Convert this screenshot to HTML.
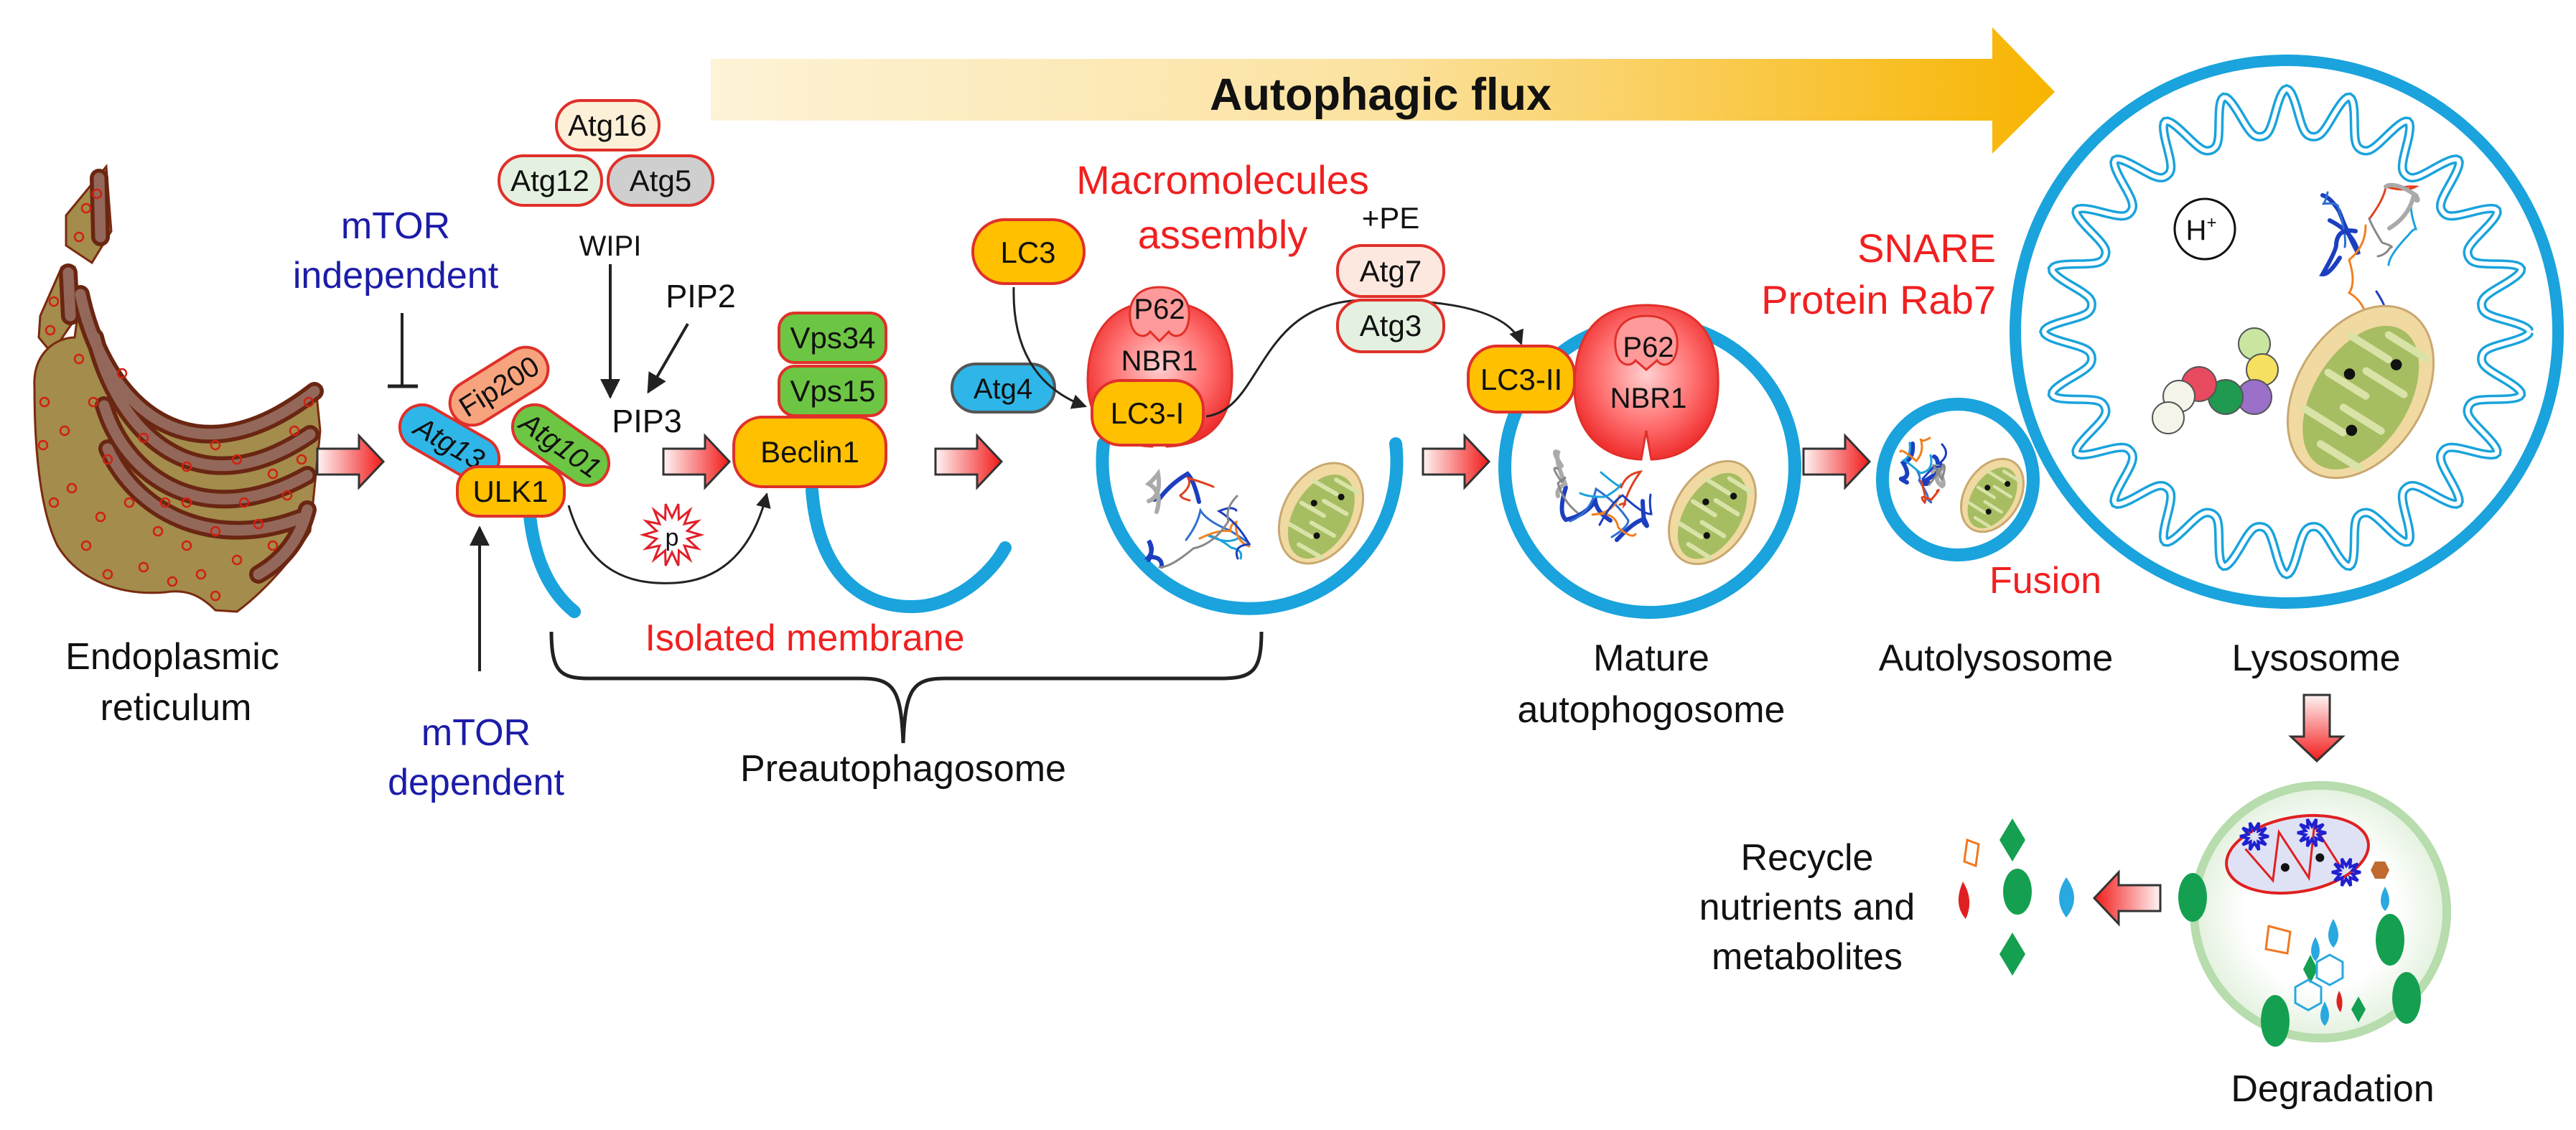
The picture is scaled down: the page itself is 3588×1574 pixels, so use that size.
<!DOCTYPE html>
<html><head><meta charset="utf-8">
<style>
html,body{margin:0;padding:0;background:#fff;}
svg{display:block;}
text{font-family:"Liberation Sans",Arial,sans-serif;}
</style></head>
<body>
<svg id="s" width="3588" height="1574" viewBox="0 0 3588 1574" xmlns="http://www.w3.org/2000/svg">
<defs>
  <linearGradient id="flux" x1="0" x2="1" y1="0" y2="0">
    <stop offset="0" stop-color="#fdf3d6"/>
    <stop offset="0.5" stop-color="#fbe2a0"/>
    <stop offset="1" stop-color="#f8b400"/>
  </linearGradient>
  <linearGradient id="redarr" x1="0" x2="1" y1="0" y2="0">
    <stop offset="0" stop-color="#fff4f4"/>
    <stop offset="1" stop-color="#f21a1a"/>
  </linearGradient>
  <radialGradient id="nbr" cx="0.5" cy="0.45" r="0.55">
    <stop offset="0" stop-color="#ffd0d0"/>
    <stop offset="0.6" stop-color="#ff7070"/>
    <stop offset="1" stop-color="#f03030"/>
  </radialGradient>
  <radialGradient id="deg" cx="0.5" cy="0.5" r="0.5">
    <stop offset="0.6" stop-color="#ffffff"/>
    <stop offset="1" stop-color="#e3f1de"/>
  </radialGradient>
  <marker id="ah" viewBox="0 0 10 10" refX="9" refY="5" markerWidth="7" markerHeight="7" orient="auto-start-reverse">
    <path d="M0,0 L10,5 L0,10 Z" fill="#222"/>
  </marker>
  <path id="barr" d="M0,18 H58 V0 L92,36 L58,72 V54 H0 Z"/>
</defs>

<!-- Autophagic flux arrow -->
<path d="M990,82 H2775 V38 L2862,128 L2775,214 V168 H990 Z" fill="url(#flux)"/>
<text x="1923" y="153" font-size="63" font-weight="bold" text-anchor="middle" fill="#111">Autophagic flux</text>

<!-- ER -->
<g id="er" stroke="#7a2a10" stroke-width="3" fill="#a38c4c">
  <path d="M92,300 L148,232 L155,322 L128,366 L92,342 Z"/>
  <path d="M56,440 L86,372 L104,372 L106,442 L72,492 L54,470 Z"/>
  <path d="M48,540 C45,490 80,470 104,470 L112,410 C145,565 265,680 440,540 L446,600 L432,740 C400,790 360,830 330,852 L300,850 C280,830 260,820 230,825 C170,830 110,810 80,760 C55,710 48,620 48,540 Z"/>
</g>
<g fill="none" stroke-linecap="round">
  <g stroke="#6a2612" stroke-width="26">
    <path d="M138,248 L140,330"/>
    <path d="M95,380 L98,440"/>
    <path d="M112,410 C145,565 265,680 438,545"/>
    <path d="M132,470 C165,605 275,712 432,605"/>
    <path d="M145,565 C175,665 285,742 428,662"/>
    <path d="M150,625 C195,722 305,765 418,722"/>
    <path d="M360,800 C395,780 418,750 428,710"/>
  </g>
  <g stroke="#93685a" stroke-width="15">
    <path d="M138,248 L140,330"/>
    <path d="M95,380 L98,440"/>
    <path d="M112,410 C145,565 265,680 438,545"/>
    <path d="M132,470 C165,605 275,712 432,605"/>
    <path d="M145,565 C175,665 285,742 428,662"/>
    <path d="M150,625 C195,722 305,765 418,722"/>
    <path d="M360,800 C395,780 418,750 428,710"/>
  </g>
</g>
<g id="erdots" fill="none" stroke="#d02010" stroke-width="2.5"></g>
<text x="240" y="932" font-size="52" text-anchor="middle" fill="#111">Endoplasmic</text>
<text x="245" y="1003" font-size="52" text-anchor="middle" fill="#111">reticulum</text>

<!-- block arrows -->
<use href="#barr" x="442" y="607" fill="url(#redarr)" stroke="#333" stroke-width="3"/>
<use href="#barr" x="924" y="607" fill="url(#redarr)" stroke="#333" stroke-width="3"/>
<use href="#barr" x="1303" y="607" fill="url(#redarr)" stroke="#333" stroke-width="3"/>
<use href="#barr" x="1982" y="607" fill="url(#redarr)" stroke="#333" stroke-width="3"/>
<use href="#barr" x="2512" y="607" fill="url(#redarr)" stroke="#333" stroke-width="3"/>
<g transform="translate(3009,1215) scale(-1,1)"><use href="#barr" fill="url(#redarr)" stroke="#333" stroke-width="3"/></g>
<g transform="translate(3263,968) rotate(90)"><path d="M0,18 H58 V0 L92,36 L58,72 V54 H0 Z" fill="url(#redarr)" stroke="#333" stroke-width="3"/></g>

<!-- mTOR labels -->
<text x="551" y="332" font-size="52" text-anchor="middle" fill="#1c1ca8">mTOR</text>
<text x="551" y="401" font-size="52" text-anchor="middle" fill="#1c1ca8">independent</text>
<line x1="560" y1="436" x2="560" y2="538" stroke="#222" stroke-width="4"/>
<line x1="540" y1="538" x2="582" y2="538" stroke="#222" stroke-width="5"/>
<text x="663" y="1038" font-size="52" text-anchor="middle" fill="#1c1ca8">mTOR</text>
<text x="663" y="1107" font-size="52" text-anchor="middle" fill="#1c1ca8">dependent</text>
<line x1="668" y1="935" x2="668" y2="735" stroke="#222" stroke-width="4" marker-end="url(#ah)"/>

<!-- Atg16/12/5 -->
<g stroke="#e0302a" stroke-width="4">
  <rect x="775" y="140" width="143" height="69" rx="34" fill="#fdf0d8"/>
  <rect x="695" y="217" width="143" height="69" rx="34" fill="#e4f1e0"/>
  <rect x="847" y="217" width="146" height="69" rx="34" fill="#cfcfcf"/>
</g>
<g font-size="42" text-anchor="middle" fill="#111">
  <text x="846" y="189">Atg16</text>
  <text x="766" y="266">Atg12</text>
  <text x="920" y="266">Atg5</text>
</g>
<text x="850" y="356" font-size="40" text-anchor="middle" fill="#111">WIPI</text>
<line x1="850" y1="368" x2="850" y2="553" stroke="#222" stroke-width="4" marker-end="url(#ah)"/>
<text x="976" y="428" font-size="45" text-anchor="middle" fill="#111">PIP2</text>
<line x1="958" y1="451" x2="903" y2="546" stroke="#222" stroke-width="4" marker-end="url(#ah)"/>
<text x="901" y="602" font-size="45" text-anchor="middle" fill="#111">PIP3</text>

<!-- isolated membranes -->
<g fill="none" stroke="#1aa3dc" stroke-width="18" stroke-linecap="round">
  <path d="M738,719 Q748,810 800,852"/>
  <path d="M1131,683 C1140,800 1200,845 1270,845 C1330,845 1380,800 1400,763"/>
  <path d="M1537,618 A205,205 0 1 0 1944,618"/>
  <circle cx="2298" cy="651" r="202"/>
  <circle cx="2727" cy="668" r="105"/>
  <circle cx="3185" cy="462" r="378" stroke-width="16"/>
</g>
<g id="lysomem"></g>

<!-- ULK complex -->
<g stroke="#e0302a" stroke-width="4">
  <g transform="translate(695,538) rotate(-32)"><rect x="-75" y="-31" width="150" height="62" rx="31" fill="#f7a47e"/><text x="0" y="14" font-size="40" text-anchor="middle" stroke="none" fill="#111">Fip200</text></g>
  <g transform="translate(626,617) rotate(30)"><rect x="-75" y="-31" width="150" height="62" rx="31" fill="#2eb6e8"/><text x="0" y="14" font-size="40" font-style="italic" text-anchor="middle" stroke="none" fill="#111">Atg13</text></g>
  <g transform="translate(781,620) rotate(35)"><rect x="-75" y="-31" width="150" height="62" rx="31" fill="#6cc644"/><text x="0" y="14" font-size="40" font-style="italic" text-anchor="middle" stroke="none" fill="#111">Atg101</text></g>
  <rect x="637" y="650" width="149" height="69" rx="30" fill="#ffc000"/>
</g>
<text x="711" y="699" font-size="42" text-anchor="middle" fill="#111">ULK1</text>

<!-- curved arrow ULK1 -> Beclin1 + p -->
<path d="M792,704 C820,800 880,815 940,812 C1010,808 1050,760 1068,688" fill="none" stroke="#222" stroke-width="3" marker-end="url(#ah)"/>
<polygon id="star" fill="#fff" stroke="#e0202a" stroke-width="3"/>
<text x="936" y="760" font-size="34" text-anchor="middle" fill="#111">p</text>

<!-- Beclin1 complex -->
<g stroke="#e0302a" stroke-width="4">
  <rect x="1085" y="436" width="149" height="69" rx="22" fill="#6cc644"/>
  <rect x="1085" y="510" width="149" height="69" rx="22" fill="#6cc644"/>
  <rect x="1022" y="581" width="212" height="97" rx="40" fill="#ffc000"/>
</g>
<g font-size="42" text-anchor="middle" fill="#111">
  <text x="1160" y="485">Vps34</text>
  <text x="1160" y="559">Vps15</text>
  <text x="1128" y="644">Beclin1</text>
</g>
<text x="1121" y="906" font-size="52" text-anchor="middle" fill="#f02020">Isolated membrane</text>
<path d="M768,880 C768,935 780,945 820,945 L1200,945 C1245,945 1255,960 1258,1035 C1261,960 1271,945 1316,945 L1700,945 C1745,945 1757,935 1757,880" fill="none" stroke="#222" stroke-width="5"/>
<text x="1258" y="1088" font-size="52" text-anchor="middle" fill="#111">Preautophagosome</text>

<!-- LC3 stage -->
<text x="1703" y="270" font-size="56" text-anchor="middle" fill="#f02020">Macromolecules</text>
<text x="1703" y="346" font-size="56" text-anchor="middle" fill="#f02020">assembly</text>
<rect x="1355" y="306" width="155" height="89" rx="44" fill="#ffc000" stroke="#e0302a" stroke-width="4"/>
<text x="1432" y="366" font-size="42" text-anchor="middle" fill="#111">LC3</text>
<rect x="1326" y="507" width="143" height="67" rx="33" fill="#2eb6e8" stroke="#555" stroke-width="4"/>
<text x="1397" y="555" font-size="40" text-anchor="middle" fill="#111">Atg4</text>
<path d="M1412,400 C1410,480 1440,540 1512,566" fill="none" stroke="#222" stroke-width="3" marker-end="url(#ah)"/>
<g>
  <path d="M1615,420 C1700,420 1718,480 1716,530 C1714,590 1680,620 1625,622 L1615,590 L1605,622 C1550,620 1515,590 1515,530 C1515,480 1535,420 1615,420 Z" fill="url(#nbr)" stroke="#e0302a" stroke-width="3"/>
  <path d="M1615,400 C1650,400 1660,425 1655,450 C1650,470 1635,472 1628,462 L1615,475 L1602,462 C1595,472 1580,470 1575,450 C1570,425 1580,400 1615,400 Z" fill="#ff9a9a" stroke="#e0302a" stroke-width="3"/>
  <text x="1615" y="444" font-size="40" text-anchor="middle" fill="#111">P62</text>
  <text x="1615" y="516" font-size="40" text-anchor="middle" fill="#111">NBR1</text>
</g>
<rect x="1521" y="530" width="155" height="90" rx="40" fill="#ffc000" stroke="#e0302a" stroke-width="4"/>
<text x="1598" y="590" font-size="42" text-anchor="middle" fill="#111">LC3-I</text>
<path d="M1680,580 C1760,570 1750,420 1900,418 C2010,416 2100,430 2119,479" fill="none" stroke="#222" stroke-width="3" marker-end="url(#ah)"/>
<text x="1937" y="318" font-size="42" text-anchor="middle" fill="#111">+PE</text>
<g stroke="#e0302a" stroke-width="4">
  <rect x="1863" y="342" width="148" height="71" rx="34" fill="#fde8e0"/>
  <rect x="1863" y="418" width="148" height="72" rx="34" fill="#e4f1e0"/>
</g>
<text x="1937" y="392" font-size="42" text-anchor="middle" fill="#111">Atg7</text>
<text x="1937" y="468" font-size="42" text-anchor="middle" fill="#111">Atg3</text>

<!-- mature autophagosome -->
<g>
  <path d="M2293,425 C2378,425 2395,485 2393,540 C2391,600 2355,638 2300,640 L2293,600 L2286,640 C2230,638 2193,600 2193,540 C2193,485 2210,425 2293,425 Z" fill="url(#nbr)" stroke="#e0302a" stroke-width="3"/>
  <path d="M2293,440 C2330,440 2340,465 2335,490 C2330,510 2315,512 2308,502 L2293,515 L2278,502 C2271,512 2256,510 2251,490 C2246,465 2256,440 2293,440 Z" fill="#ff9a9a" stroke="#e0302a" stroke-width="3"/>
  <text x="2296" y="497" font-size="40" text-anchor="middle" fill="#111">P62</text>
  <text x="2296" y="568" font-size="40" text-anchor="middle" fill="#111">NBR1</text>
</g>
<rect x="2045" y="482" width="148" height="92" rx="40" fill="#ffc000" stroke="#e0302a" stroke-width="4"/>
<text x="2119" y="543" font-size="42" text-anchor="middle" fill="#111">LC3-II</text>

<text x="2780" y="365" font-size="56" text-anchor="end" fill="#f02020">SNARE</text>
<text x="2780" y="437" font-size="56" text-anchor="end" fill="#f02020">Protein Rab7</text>
<text x="2849" y="826" font-size="52" text-anchor="middle" fill="#f02020">Fusion</text>

<!-- H+ -->
<circle cx="3071" cy="319" r="42" fill="#fff" stroke="#111" stroke-width="3"/>
<text x="3066" y="334" font-size="40" text-anchor="middle" fill="#111">H<tspan font-size="24" dy="-16">+</tspan></text>

<!-- beads -->
<g stroke="#555" stroke-width="2">
  <circle cx="3140" cy="479" r="22" fill="#c8e6a0"/>
  <circle cx="3151" cy="515" r="22" fill="#f5e060"/>
  <circle cx="3140" cy="553" r="24" fill="#9a70c8"/>
  <circle cx="3100" cy="553" r="24" fill="#1f9a50"/>
  <circle cx="3063" cy="535" r="24" fill="#e84a60"/>
  <circle cx="3035" cy="552" r="22" fill="#f4f4e8"/>
  <circle cx="3020" cy="582" r="22" fill="#f4f4e8"/>
</g>

<g id="prot"></g>
<g id="mito"></g>

<!-- labels -->
<g font-size="52" text-anchor="middle" fill="#111">
  <text x="2300" y="934">Mature</text>
  <text x="2300" y="1006">autophogosome</text>
  <text x="2780" y="934">Autolysosome</text>
  <text x="3226" y="934">Lysosome</text>
  <text x="3249" y="1534">Degradation</text>
  <text x="2517" y="1212">Recycle</text>
  <text x="2517" y="1281">nutrients and</text>
  <text x="2517" y="1350">metabolites</text>
</g>

<!-- degradation -->
<circle cx="3232" cy="1270" r="176" fill="url(#deg)" stroke="#b7dcad" stroke-width="12"/>
<g transform="translate(3200,1190) rotate(-10)">
  <ellipse cx="0" cy="0" rx="100" ry="52" fill="#dfe2f4" stroke="#e02020" stroke-width="4"/>
  <path d="M-70,-20 L-40,30 L-20,-35 L10,35 L30,-35 L55,25" fill="none" stroke="#e02020" stroke-width="3"/>
  <circle cx="-20" cy="15" r="6" fill="#111"/><circle cx="30" cy="10" r="6" fill="#111"/>
</g>
<g id="blue-stars"></g>
<g fill="#14a050">
  <ellipse cx="3054" cy="1250" rx="20" ry="34"/>
  <ellipse cx="3329" cy="1309" rx="20" ry="36"/>
  <ellipse cx="3352" cy="1390" rx="20" ry="36"/>
  <ellipse cx="3169" cy="1422" rx="20" ry="36"/>
  <path d="M3218,1330 l10,20 -10,20 -10,-20z"/>
  <path d="M3285,1388 l10,18 -10,18 -10,-18z"/>
  <path d="M2803,1140 l18,30 -18,30 -18,-30z"/>
  <path d="M2803,1299 l18,30 -18,30 -18,-30z"/>
  <ellipse cx="2810" cy="1242" rx="20" ry="32"/>
</g>
<g fill="#2aa8e0">
  <path d="M3250,1280 q14,25 0,40 q-14,-15 0,-40z"/>
  <path d="M3225,1305 q12,22 0,34 q-12,-12 0,-34z"/>
  <path d="M3238,1395 q12,22 0,34 q-12,-12 0,-34z"/>
  <path d="M3322,1235 q12,22 0,34 q-12,-12 0,-34z"/>
  <path d="M2878,1222 q22,30 0,56 q-20,-26 0,-56z"/>
</g>
<g fill="none" stroke="#2aa8e0" stroke-width="3">
  <path d="M3245,1330 l18,10 0,22 -18,10 -18,-10 0,-22z"/>
  <path d="M3215,1365 l18,10 0,22 -18,10 -18,-10 0,-22z"/>
</g>
<g fill="none" stroke="#f07820" stroke-width="3">
  <path d="M3160,1290 l30,8 -4,30 -30,-6z"/>
  <path d="M2740,1170 l16,6 -4,30 -16,-6z"/>
</g>
<path d="M3308,1200 l14,0 6,12 -6,12 -14,0 -6,-12z" fill="#c06a30"/>
<path d="M2734,1228 q16,26 4,52 q-18,-20 -4,-52z" fill="#e02020"/>
<path d="M3258,1380 q8,14 2,30 q-10,-12 -2,-30z" fill="#e02020"/>

<script>
(function(){
var NS="http://www.w3.org/2000/svg";
function el(p,t,a){var e=document.createElementNS(NS,t);for(var k in a)e.setAttribute(k,a[k]);p.appendChild(e);return e;}
var seed=7;function rnd(){seed=(seed*16807)%2147483647;return (seed-1)/2147483646;}
var g=document.getElementById("lysomem");var cx=3185,cy=462,d="";
for(var i=0;i<=720;i++){var t=i/720*2*Math.PI;var r=300+32*Math.cos(24*t)+6*Math.cos(48*t);
var x=cx+r*Math.cos(t),y=cy+r*Math.sin(t);d+=(i?"L":"M")+x.toFixed(1)+","+y.toFixed(1);}
el(g,"path",{d:d,fill:"none",stroke:"#1aa3dc","stroke-width":"13"});
el(g,"path",{d:d,fill:"none",stroke:"#fff","stroke-width":"6"});
var ed=document.getElementById("erdots");
var pts=[[120,290],[135,270],[110,330],[75,420],[70,460],[62,560],[60,620],[75,700],[120,760],[150,800],[200,790],[240,810],[280,800],[300,830],[330,780],[360,730],[400,690],[420,640],[410,600],[430,560],[110,500],[130,560],[150,640],[180,700],[220,740],[260,760],[300,740],[340,700],[380,660],[260,650],[300,620],[200,610],[170,520],[90,600],[100,680],[230,700],[330,640],[140,720],[260,700],[380,760]];
pts.forEach(function(p){el(ed,"circle",{cx:p[0],cy:p[1],r:6});});
var s="";for(var k=0;k<28;k++){var a=k/28*2*Math.PI;var rr=(k%2?22:40);s+=(936+rr*Math.cos(a)).toFixed(1)+","+(745+rr*1.1*Math.sin(a)).toFixed(1)+" ";}
document.getElementById("star").setAttribute("points",s);
var bs=document.getElementById("blue-stars");
[[3140,1165],[3220,1160],[3268,1215]].forEach(function(c){var q="";for(var k=0;k<20;k++){var a=k/20*2*Math.PI;var rr=(k%2?9:20);q+=(c[0]+rr*Math.cos(a)).toFixed(1)+","+(c[1]+rr*Math.sin(a)).toFixed(1)+" ";}el(bs,"polygon",{points:q,fill:"none",stroke:"#2020d0","stroke-width":"4"});});
var pg=document.getElementById("prot");
var cols=["#1c3fbf","#2f6fd0","#1aa3dc","#1c3fbf","#e04020","#f08020","#aaa","#1c3fbf","#888"];
function prot(x0,y0,w,h){for(var n=0;n<9;n++){var x=x0+rnd()*w,y=y0+rnd()*h,dd="M"+x.toFixed(0)+","+y.toFixed(0);
for(var m=0;m<3;m++){var nx=x+(rnd()-0.5)*w*0.7,ny=y+(rnd()-0.5)*h*0.7;nx=Math.max(x0,Math.min(x0+w,nx));ny=Math.max(y0,Math.min(y0+h,ny));dd+=" Q"+((x+nx)/2+(rnd()-0.5)*30).toFixed(0)+","+((y+ny)/2+(rnd()-0.5)*30).toFixed(0)+" "+nx.toFixed(0)+","+ny.toFixed(0);x=nx;y=ny;}
el(pg,"path",{d:dd,fill:"none",stroke:cols[n%cols.length],"stroke-width":(n%3==0?6:3),"stroke-linecap":"round"});}}
prot(1600,660,140,130);prot(2170,630,130,140);prot(2635,610,70,90);prot(3235,260,130,180);
var mg=document.getElementById("mito");
function mito(x,y,rx,ry,rot){var gg=el(mg,"g",{transform:"translate("+x+","+y+") rotate("+rot+")"});
el(gg,"ellipse",{cx:0,cy:0,rx:rx,ry:ry,fill:"#f1d9a2",stroke:"#c9a870","stroke-width":3});
el(gg,"ellipse",{cx:-rx*0.05,cy:ry*0.05,rx:rx*0.85,ry:ry*0.75,fill:"#a7bd62"});
var dd="";for(var k=0;k<7;k++){var xx=-rx*0.7+k*rx*0.23;dd+="M"+xx.toFixed(0)+","+(k%2?-ry*0.6:ry*0.6).toFixed(0)+" L"+xx.toFixed(0)+","+(k%2?ry*0.1:-ry*0.1).toFixed(0)+" ";}
el(gg,"path",{d:dd,stroke:"#d9e3a8","stroke-width":Math.max(3,rx*0.08),fill:"none","stroke-linecap":"round"});
[[-0.4,0.2],[0.1,-0.3],[0.45,0.25]].forEach(function(p){el(gg,"circle",{cx:p[0]*rx,cy:p[1]*ry,r:Math.max(4,rx*0.06),fill:"#111"});});}
mito(1840,715,75,52,-60);mito(2385,714,78,52,-58);mito(2775,690,55,38,-58);mito(3288,546,130,88,-58);
})();
</script>
</svg>
</body></html>
